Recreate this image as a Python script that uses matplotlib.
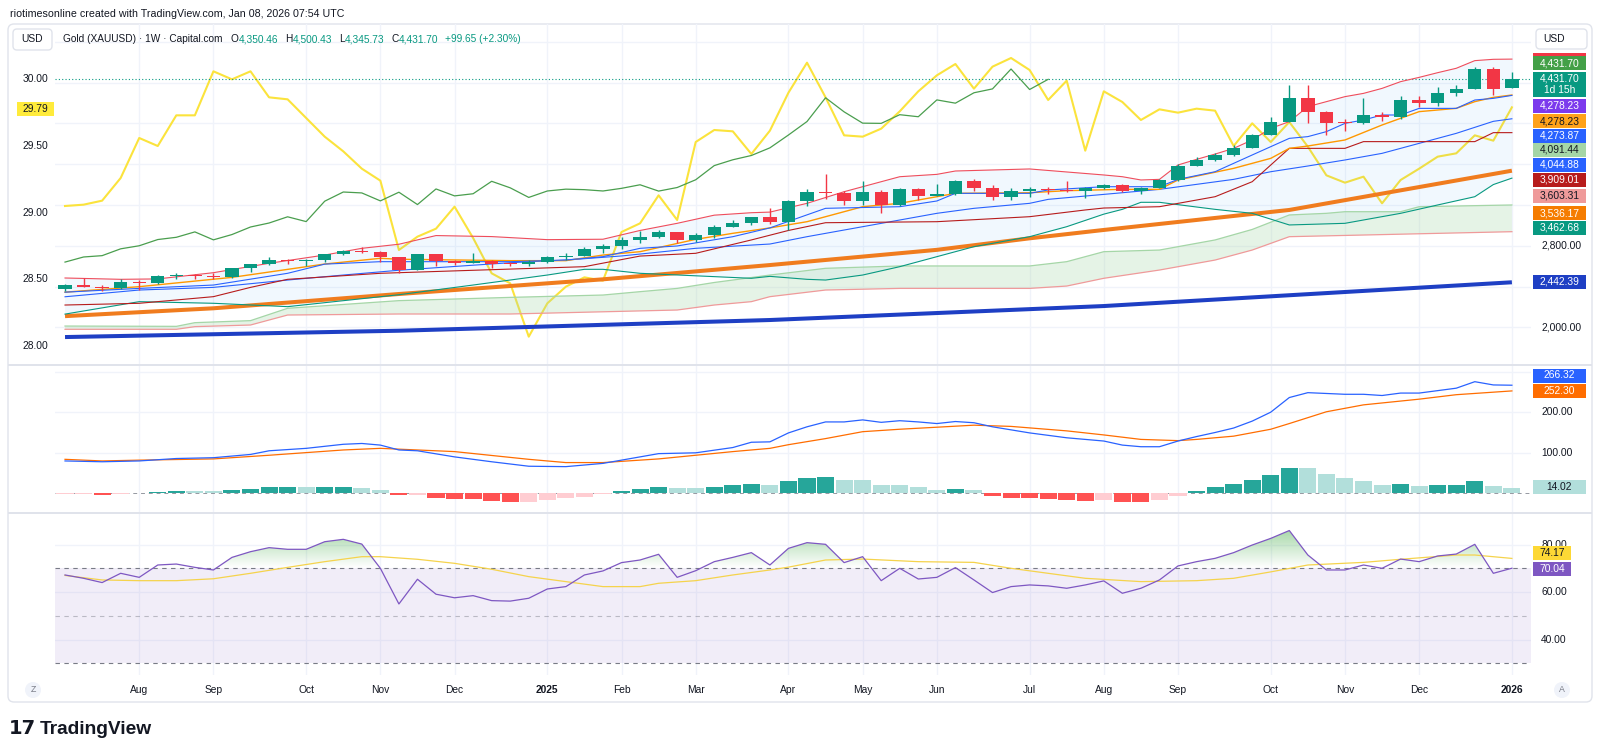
import numpy as np
import pandas as pd
import matplotlib
matplotlib.use("Agg")
import matplotlib.pyplot as plt
from matplotlib.patches import Rectangle, FancyBboxPatch, Circle
from matplotlib.path import Path
from matplotlib.transforms import IdentityTransform
from matplotlib.colors import LinearSegmentedColormap

plt.rcParams['font.family'] = ['Liberation Sans', 'DejaVu Sans']

# ---------------- data ----------------
first_week = "2024-07-08"
opens = [2375, 2411, 2400, 2387, 2443, 2431, 2507, 2512, 2503, 2497, 2578, 2622, 2658, 2653, 2657, 2721, 2747, 2737, 2685, 2563,
         2716, 2650, 2633, 2648, 2622, 2621, 2640, 2690, 2703, 2770, 2800, 2861, 2883, 2936, 2858, 2910, 2984, 3023, 3084, 3037,
         3237, 3327, 3318, 3240, 3325, 3204, 3357, 3289, 3310, 3432, 3368, 3274, 3337, 3355, 3350, 3337, 3363, 3398, 3336, 3371,
         3447, 3586, 3643, 3685, 3760, 3886, 4018, 4251, 4113, 4002, 4000, 4085, 4065, 4230, 4198, 4300, 4338, 4533, 4350.46]
highs = [2424, 2483, 2412, 2477, 2461, 2510, 2531, 2528, 2529, 2586, 2625, 2685, 2670, 2670, 2722, 2758, 2790, 2750, 2690, 2721,
         2721, 2657, 2726, 2664, 2638, 2665, 2697, 2726, 2786, 2817, 2886, 2942, 2954, 2935, 2930, 3005, 3057, 3086, 3167, 3245,
         3357, 3500, 3336, 3435, 3345, 3366, 3366, 3403, 3446, 3452, 3398, 3365, 3375, 3375, 3438, 3375, 3409, 3405, 3379, 3453,
         3600, 3674, 3707, 3791, 3897, 4059, 4381, 4381, 4117, 4047, 4245, 4110, 4264, 4264, 4354, 4374, 4550, 4550, 4500.43]
lows = [2353, 2394, 2353, 2380, 2364, 2424, 2470, 2471, 2471, 2485, 2546, 2615, 2624, 2603, 2643, 2708, 2725, 2643, 2536, 2560,
        2605, 2613, 2631, 2583, 2600, 2597, 2631, 2656, 2695, 2731, 2772, 2832, 2880, 2832, 2833, 2880, 2982, 2999, 3015, 2957,
        3194, 3260, 3202, 3204, 3121, 3190, 3245, 3287, 3300, 3340, 3247, 3248, 3282, 3310, 3326, 3268, 3353, 3331, 3311, 3365,
        3436, 3578, 3628, 3683, 3760, 3884, 4017, 4004, 3886, 3930, 3997, 4022, 4040, 4161, 4174, 4271, 4338, 4275, 4345.73]
closes = [2411, 2400, 2387, 2443, 2431, 2507, 2512, 2503, 2497, 2578, 2622, 2658, 2653, 2657, 2721, 2747, 2737, 2685, 2563, 2716,
          2650, 2633, 2648, 2622, 2621, 2640, 2690, 2703, 2770, 2800, 2861, 2883, 2936, 2858, 2910, 2984, 3023, 3084, 3037, 3237,
          3327, 3318, 3240, 3325, 3204, 3357, 3289, 3310, 3432, 3368, 3274, 3337, 3355, 3350, 3337, 3363, 3398, 3336, 3371, 3447,
          3586, 3643, 3685, 3760, 3886, 4018, 4251, 4113, 4002, 4000, 4085, 4065, 4230, 4198, 4300, 4338, 4533, 4332.05, 4431.70]
lagging_shift = 25

# yellow line on the left scale
ratio_vals = [29.05, 29.06, 29.09, 29.26, 29.56, 29.50, 29.73, 29.73, 30.06, 30.00,
              30.06, 29.865, 29.85, 29.71, 29.57, 29.46, 29.33, 29.24, 28.72, 28.82,
              28.88, 29.045, 28.81, 28.545, 28.47, 28.07, 28.32, 28.445, 28.515, 28.49,
              28.855, 28.92, 29.13, 28.945, 29.53, 29.62, 29.61, 29.44, 29.615, 29.90,
              30.125, 29.865, 29.58, 29.57, 29.63, 29.76, 29.91, 30.03, 30.115, 29.93,
              30.095, 30.16, 30.07, 29.845, 29.99, 29.465, 29.91, 29.83, 29.695, 29.775,
              29.75, 29.78, 29.765, 29.50, 29.67, 29.53, 29.68, 29.495, 29.28, 29.225,
              29.27, 29.07, 29.245, 29.33, 29.42, 29.445, 29.58, 29.54, 29.79]

bb_upper_wk = [0, 3, 5, 8, 11, 14, 16, 18, 20, 23, 26, 29, 31, 33, 35, 37, 38, 40, 42, 45, 47, 48, 52, 56, 57, 58, 59,
               60, 61, 62, 63, 64, 65, 66, 67, 68, 69, 70, 71, 72, 73, 74, 75, 76, 77, 78]
bb_upper = [2484, 2471, 2475, 2536, 2628, 2709, 2775, 2815, 2900, 2890, 2860, 2864, 2950, 3020, 3100, 3124, 3130, 3216,
            3330, 3477, 3500, 3533, 3553, 3494, 3477, 3445, 3451, 3592, 3647, 3699, 3755, 3837, 3951, 4017, 4164, 4213,
            4262, 4294, 4343, 4409, 4451, 4497, 4540, 4615, 4628, 4630]
bb_lower_wk = [0, 4, 8, 12, 18, 22, 26, 28, 29, 31, 37, 38, 40, 41, 43, 45, 47, 49, 52, 54, 56, 57, 58, 59, 62, 64, 66,
               69, 72, 74, 76, 77, 78]
bb_lower = [2130, 2252, 2236, 2203, 2320, 2415, 2513, 2569, 2569, 2530, 2481, 2500, 2471, 2464, 2513, 2595, 2693, 2791,
            2889, 2987, 3110, 3157, 3226, 3226, 3157, 3118, 3004, 3020, 3118, 3200, 3281, 3400, 3463]
bb_basis_wk = [0, 4, 8, 12, 15, 18, 24, 27, 30, 34, 38, 40, 43, 47, 49, 52, 53, 57, 59, 63, 65, 67, 69, 71, 73, 75, 77, 78]
bb_basis = [2300, 2366, 2392, 2464, 2513, 2560, 2634, 2660, 2700, 2775, 2817, 2889, 2987, 3118, 3167, 3216, 3255, 3320,
            3353, 3451, 3526, 3582, 3641, 3706, 3804, 3902, 4020, 4045]
conv_wk = [0, 4, 8, 12, 14, 17, 24, 27, 29, 31, 33, 36, 38, 41, 45, 47, 48, 52, 53, 56, 59, 60, 62, 64, 66, 67, 68, 69,
           70, 71, 72, 73, 75, 76, 77, 78]
conv = [2345, 2382, 2415, 2530, 2620, 2644, 2644, 2660, 2693, 2775, 2798, 2889, 2975, 3167, 3183, 3239, 3314, 3314, 3347,
        3379, 3379, 3451, 3526, 3690, 3853, 3870, 3919, 4000, 4033, 4082, 4082, 4147, 4147, 4229, 4245, 4274]
ema_wk = [0, 4, 9, 14, 17, 18, 24, 27, 29, 31, 34, 36, 38, 40, 43, 45, 47, 48, 52, 54, 57, 59, 60, 63, 65, 66, 67, 69, 71,
          73, 75, 76, 77, 78]
ema = [2345, 2399, 2490, 2621, 2677, 2668, 2654, 2654, 2709, 2742, 2863, 2922, 2975, 3036, 3183, 3216, 3281, 3314, 3320,
       3340, 3353, 3353, 3445, 3559, 3657, 3755, 3778, 3837, 3984, 4115, 4147, 4213, 4255, 4278]
base_wk = [0, 4, 8, 10, 12, 17, 18, 28, 31, 34, 37, 39, 41, 47, 52, 55, 56, 59, 62, 64, 66, 69, 70, 76, 77, 78]
base = [2219, 2236, 2301, 2392, 2471, 2530, 2536, 2595, 2699, 2726, 2857, 2950, 3026, 3036, 3085, 3151, 3170, 3183, 3281,
        3428, 3755, 3755, 3821, 3821, 3909, 3909]
sma50_wk = [0, 8, 18, 29, 38, 47, 52, 56, 66, 78]
sma50 = [2110, 2187, 2327, 2471, 2611, 2760, 2873, 2955, 3151, 3536]
sma200_wk = [0, 18, 38, 56, 78]
sma200 = [1905, 1967, 2072, 2209, 2442]
spanA_wk = [0, 6, 7, 10, 12, 18, 24, 29, 31, 33, 35, 36, 38, 41, 45, 52, 54, 56, 59, 62, 64, 66, 68, 69, 72, 73, 78]
spanA = [2013, 2010, 2046, 2066, 2187, 2262, 2294, 2317, 2350, 2382, 2440, 2464, 2513, 2579, 2602, 2602, 2644, 2742, 2758,
         2857, 2960, 3102, 3118, 3134, 3134, 3183, 3200]
spanB_wk = [0, 6, 7, 10, 12, 18, 24, 33, 35, 37, 38, 41, 45, 52, 54, 56, 59, 62, 64, 66, 78]
spanB = [1981, 1981, 2007, 2023, 2121, 2131, 2131, 2170, 2219, 2252, 2301, 2366, 2382, 2382, 2405, 2481, 2562, 2660, 2758,
         2889, 2938]

macd_wk = [0, 2, 4, 6, 8, 10, 11, 13, 15, 16, 17, 18, 19, 21, 23, 25, 27, 29, 30, 32, 34, 36, 37, 38, 39, 40, 41, 42, 43,
           44, 45, 46, 47, 48, 49, 50, 52, 54, 56, 57, 58, 59, 60, 61, 62, 63, 64, 65, 66, 67, 68, 69, 70, 71, 72, 73, 74,
           75, 76, 77, 78]
macd = [80, 78, 80, 86, 88, 96, 105, 111, 121, 123, 119, 107, 105, 90, 78, 67, 66, 74, 82, 98, 100, 113, 126, 127, 149,
        164, 176, 176, 181, 175, 179, 176, 172, 177, 174, 164, 149, 137, 129, 119, 115, 115, 129, 140, 150, 161, 178, 200,
        236, 248, 246, 244, 244, 241, 247, 247, 253, 259, 275, 267, 266.32]
signal_wk = [0, 2, 4, 8, 11, 15, 17, 18, 21, 25, 27, 29, 32, 36, 38, 39, 41, 43, 45, 47, 49, 51, 54, 56, 58, 60, 61, 63,
             65, 66, 68, 70, 73, 75, 78]
signal = [84, 80, 82, 85, 94, 107, 111, 109, 103, 84, 76, 76, 85, 103, 111, 120, 135, 152, 158, 163, 168, 165, 154, 144,
          133, 130, 133, 141, 158, 172, 201, 218, 232, 243, 252.30]
hist = [-1, -2, -5, -1, 1, 3, 6, 5, 5, 8, 12, 15, 16, 15, 16, 16, 14, 9, -4, -3, -10, -14, -14, -19, -21, -20, -16, -12,
        -8, -1, 7, 12, 16, 14, 14, 16, 21, 23, 21, 30, 39, 41, 34, 33, 21, 21, 15, 8, 12, 8, -6, -10, -11, -13, -16, -18,
        -15, -21, -21, -15, -6, 7, 15, 23, 32, 45, 62, 62, 49, 37, 30, 21, 23, 18, 21, 21, 30, 18, 14.02]
hist_kind = ("pprpGGGggG" "GGGgGGggrp" "rrrrrppppp" "GGGggGGGgG" "GGggggggGg" "rrrrrrprrp" "pGGGGGGggg" "ggGgGGGgg")

rsi = [67.2, 65.8, 64.0, 67.9, 66.2, 71.4, 71.8, 70.4, 69.3, 74.6, 77.0, 78.7, 78.0, 78.0, 81.2, 82.2, 80.2, 70.0, 55.0,
       65.4, 59.1, 57.6, 58.5, 56.4, 56.2, 57.4, 61.3, 62.3, 67.2, 68.9, 72.4, 73.5, 75.9, 66.2, 69.0, 72.8, 74.6, 76.6,
       71.4, 78.4, 80.8, 80.1, 72.4, 74.9, 64.8, 70.0, 65.5, 66.2, 70.3, 65.1, 59.8, 62.3, 63.0, 62.6, 61.6, 63.0, 64.7,
       59.5, 61.6, 65.1, 71.0, 72.8, 74.2, 76.6, 79.8, 82.6, 85.9, 75.6, 69.3, 69.3, 71.4, 70.0, 73.9, 72.8, 75.2, 76.0,
       80.1, 67.9, 70.04]
rsi_ma_wk = [0, 2, 4, 6, 8, 10, 12, 14, 16, 17, 19, 21, 23, 25, 27, 29, 31, 32, 34, 36, 38, 39, 41, 43, 46, 49, 51, 55,
             58, 61, 63, 65, 67, 70, 72, 75, 76, 78]
rsi_ma = [67, 65.1, 64.8, 64.8, 65.6, 67.9, 70.4, 72.8, 74.9, 74.9, 73.8, 72.1, 69.6, 66.5, 64.4, 62.3, 62.3, 63.7, 64.8,
          67.2, 69.3, 70.5, 73.5, 73.9, 72.8, 72.5, 70, 65.8, 64.4, 64.8, 65.8, 68.5, 71.4, 72.5, 73.8, 75.6, 75.6, 74.17]

left_ticks = [28.00, 28.50, 29.00, 29.50, 30.00]
price_grid = [2000, 2400, 2800, 3200, 3600, 4000, 4400, 4800]
price_labels = [2000, 2800]

# ---------------- layout ----------------
W, H = 1600, 756
fig = plt.figure(figsize=(W / 100, H / 100), dpi=100)
fig.patch.set_facecolor('white')
ID = IdentityTransform()
TXT = '#131722'
GRID = '#f0f3fa'


def rect(x0, y0, x1, y1):
    return [x0 / W, 1 - y1 / H, (x1 - x0) / W, (y1 - y0) / H]


def ftext(x, y, s, **kw):
    return fig.text(x / W, 1 - y / H, s, **kw)


PX_L, PX_R = 55, 1531
XLIM = (-0.54, 79.03)
n = len(closes)
x = np.arange(n)
dates = pd.date_range(first_week, periods=n, freq='7D')
tick_pos, tick_lab = [], []
for i in range(1, n):
    if dates[i].month != dates[i - 1].month:
        tick_pos.append(i)
        tick_lab.append(str(dates[i].year) if dates[i].month == 1 else dates[i].strftime('%b'))

# frame and separators
fig.add_artist(FancyBboxPatch((8, H - 702), 1584, 678, boxstyle='round,pad=0,rounding_size=6',
                              transform=ID, fc='none', ec='#e0e3eb', lw=1))
for ys in (364, 512):
    fig.add_artist(Rectangle((8, H - ys - 2), 1584, 2, transform=ID, fc='#e0e3eb', ec='none'))

ax = fig.add_axes(rect(PX_L, 24, PX_R, 364))
axr = ax.twinx()
ax2 = fig.add_axes(rect(PX_L, 366, PX_R, 512))
ax3 = fig.add_axes(rect(PX_L, 514, PX_R, 675))
for a in (ax, axr, ax2, ax3):
    a.set_xlim(*XLIM)
    for s in a.spines.values():
        s.set_visible(False)
    a.set_xticks([])
    a.set_yticks([])
    a.patch.set_visible(False)
ax.set_zorder(2)
axr.set_zorder(1)
ax.set_ylim(1640.8, 4974.2)
axr.set_ylim(27.865, 30.415)
ax2.set_ylim(-45.6, 313.6)
ax3.set_ylim(25.1, 92.86)

# grids
for a in (axr, ax2, ax3):
    for t in tick_pos:
        a.axvline(t, color=GRID, lw=1, zorder=0)
for p in price_grid:
    axr.axhline(axr.transData.inverted().transform(ax.transData.transform((0, p)))[1], color=GRID, lw=1, zorder=0)

# ---------------- main pane ----------------
ax.fill(np.r_[bb_upper_wk, bb_lower_wk[::-1]], np.r_[bb_upper, bb_lower[::-1]],
        color='#2196f3', alpha=0.06, lw=0, zorder=1)
ax.fill(np.r_[spanA_wk, spanB_wk[::-1]], np.r_[spanA, spanB[::-1]],
        color='#a5d6a7', alpha=0.28, lw=0, zorder=1)
ax.plot(spanA_wk, spanA, color='#a5d6a7', lw=0.9, zorder=2)
ax.plot(spanB_wk, spanB, color='#ef9a9a', lw=0.9, zorder=2)
ax.plot(sma200_wk, sma200, color='#1e3fc4', lw=2.9, zorder=2, solid_capstyle='butt')
ax.plot(sma50_wk, sma50, color='#f07c1e', lw=2.9, zorder=2, solid_capstyle='butt')
ax.plot(bb_lower_wk, bb_lower, color='#089981', lw=0.8, zorder=3)
ax.plot(bb_basis_wk, bb_basis, color='#2962ff', lw=0.8, zorder=3)
ax.plot(bb_upper_wk, bb_upper, color='#ef4d5c', lw=0.8, zorder=3)
ax.plot(base_wk, base, color='#b71c1c', lw=0.8, zorder=3)
ax.plot(ema_wk, ema, color='#ff9800', lw=1.0, zorder=3)
ax.plot(conv_wk, conv, color='#2962ff', lw=0.8, zorder=3)
ax.plot(x[:n - lagging_shift], closes[lagging_shift:], color='#4a9e4e', lw=0.9, zorder=3)
ax.axhline(closes[-1], color='#089981', lw=0.8, ls=(0, (1, 2)), zorder=2)

o = np.array(opens); c = np.array(closes)
col = np.where(c >= o, '#089981', '#f23645')
ax.vlines(x, lows, highs, colors=col, lw=1, zorder=5)
ax.bar(x, np.maximum(np.abs(c - o), 9), bottom=np.minimum(o, c), width=0.72, color=col, lw=0, zorder=6)

axr.plot(x, ratio_vals, color='#fbe33c', lw=1.5, zorder=3)

# ---------------- MACD pane ----------------
for v in (100, 200, 300):
    ax2.axhline(v, color=GRID, lw=1, zorder=0)
ax2.axhline(0, color='#9598a1', lw=0.7, ls=(0, (4, 4)), zorder=1)
kind_col = {'G': '#26a69a', 'g': '#b2dfdb', 'r': '#ff5252', 'p': '#ffcdd2'}
ax2.bar(x, hist, width=0.92, color=[kind_col[k] for k in hist_kind], lw=0, zorder=2)
ax2.plot(signal_wk, signal, color='#ff6d00', lw=0.9, zorder=3)
ax2.plot(macd_wk, macd, color='#2962ff', lw=0.9, zorder=3)

# ---------------- RSI pane ----------------
for v in (40, 60, 80):
    ax3.axhline(v, color=GRID, lw=1, zorder=0)
ax3.axhspan(30, 70, color='#7e57c2', alpha=0.1, lw=0, zorder=0)
ax3.axhline(70, color='#787b86', lw=0.8, ls=(0, (4, 4)), zorder=1)
ax3.axhline(50, color='#787b86', lw=0.8, ls=(0, (4, 4)), alpha=0.45, zorder=1)
ax3.axhline(30, color='#787b86', lw=0.8, ls=(0, (4, 4)), zorder=1)
rsi_arr = np.array(rsi)
pc = ax3.fill_between(x, rsi_arr, 70, where=rsi_arr > 70, interpolate=True, color='none', lw=0)
cpath = Path.make_compound_path(*pc.get_paths())
gcm = LinearSegmentedColormap.from_list('g', [(0.30, 0.69, 0.31, 0.0), (0.30, 0.69, 0.31, 0.55)])
im = ax3.imshow(np.linspace(0, 1, 256).reshape(-1, 1), extent=[XLIM[0], XLIM[1], 70, 88], origin='lower',
                aspect='auto', cmap=gcm, zorder=1, interpolation='bilinear')
im.set_clip_path(cpath, ax3.transData)
ax3.set_xlim(*XLIM)
ax3.set_ylim(25.1, 92.86)
ax3.plot(rsi_ma_wk, rsi_ma, color='#f5d34c', lw=0.9, zorder=3)
ax3.plot(x, rsi, color='#7e57c2', lw=0.9, zorder=4)

# ---------------- axis labels ----------------
FS = 7.4
for t, lab in zip(tick_pos, tick_lab):
    ax3.text(t, -0.093, lab, transform=ax3.get_xaxis_transform(), ha='center', va='center', fontsize=FS,
             color=TXT, fontweight='bold' if lab.isdigit() else 'normal', clip_on=False)

xr = (1541 - PX_L) / (PX_R - PX_L)
for p in price_labels:
    ax.text(xr, p, f'{p:,.2f}', transform=ax.get_yaxis_transform(), ha='left', va='center', fontsize=FS,
            color=TXT, clip_on=False)
for v in (100, 200):
    ax2.text(xr, v, f'{v:.2f}', transform=ax2.get_yaxis_transform(), ha='left', va='center', fontsize=FS,
             color=TXT, clip_on=False)
for v in (40, 60, 80):
    ax3.text(xr, v, f'{v:.2f}', transform=ax3.get_yaxis_transform(), ha='left', va='center', fontsize=FS,
             color=TXT, clip_on=False)
xl = (48 - PX_L) / (PX_R - PX_L)
for v in left_ticks:
    axr.text(xl, v, f'{v:.2f}', transform=axr.get_yaxis_transform(), ha='right', va='center', fontsize=FS,
             color=TXT, clip_on=False)


def badge(x0, x1, yc, h, text, fc, tc):
    fig.add_artist(Rectangle((x0, H - yc - h / 2), x1 - x0, h, transform=ID, fc=fc, ec='none', zorder=10))
    ftext((x0 + x1) / 2, yc, text, ha='center', va='center', fontsize=FS, color=tc, zorder=11,
          linespacing=1.2)


BX0, BX1 = 1533, 1586
fig.add_artist(Rectangle((BX0, H - 58), BX1 - BX0, 5, transform=ID, fc='#f23645', ec='none', zorder=9))
badges_main = [
    (63.3, 14, '4,431.70', '#43a047', 'white'),
    (84.5, 25, '4,431.70\n1d 15h', '#089981', 'white'),
    (106, 14, '4,278.23', '#7c3aed', 'white'),
    (121, 14, '4,278.23', '#ffa21a', TXT),
    (135.7, 14, '4,273.87', '#2962ff', 'white'),
    (150, 14, '4,091.44', '#a5d6a7', TXT),
    (164.7, 14, '4,044.88', '#2962ff', 'white'),
    (179.7, 14, '3,909.01', '#b71c1c', 'white'),
    (195.8, 14, '3,603.31', '#ef9a9a', TXT),
    (213, 14, '3,536.17', '#f57c00', 'white'),
    (228, 14, '3,462.68', '#089981', 'white'),
    (282, 14, '2,442.39', '#1e3fc4', 'white'),
    (375.5, 14, '266.32', '#2962ff', 'white'),
    (390.5, 14, '252.30', '#ff6d00', 'white'),
    (487, 14, '14.02', '#b2dfdb', TXT),
]
for yc, h, s, fc, tc in badges_main:
    badge(BX0, BX1, yc, h, s, fc, tc)
badge(1533, 1571, 553.3, 14, '74.17', '#fdd835', TXT)
badge(1533, 1571, 569, 14, '70.04', '#7e57c2', 'white')
badge(17, 54, 109.3, 14, '29.79', '#ffeb3b', TXT)

# ---------------- header / footer ----------------
ftext(10, 14, 'riotimesonline created with TradingView.com, Jan 08, 2026 07:54 UTC', fontsize=7.7, color=TXT,
      va='center')
fig.add_artist(FancyBboxPatch((13, H - 50), 39, 21, boxstyle='round,pad=0,rounding_size=4', transform=ID,
                              fc='white', ec='#e0e3eb', lw=1, zorder=5))
ftext(32.5, 39.5, 'USD', fontsize=7.4, color=TXT, ha='center', va='center', zorder=6)
fig.add_artist(FancyBboxPatch((1536, H - 49), 51, 20, boxstyle='round,pad=0,rounding_size=4', transform=ID,
                              fc='white', ec='#e0e3eb', lw=1, zorder=5))
ftext(1543, 39, 'USD', fontsize=7.4, color=TXT, ha='left', va='center', zorder=6)

# legend: pieces chained one after another
TEAL = '#089981'
LFS = 7.3
chg = closes[-1] - closes[-2]
legend_parts = [('Gold (XAUUSD) · 1W · Capital.com', TXT, 0),
                ('O', TXT, 6), (f'{opens[-1]:,.2f}', TEAL, 0),
                ('H', TXT, 5), (f'{highs[-1]:,.2f}', TEAL, 0),
                ('L', TXT, 5), (f'{lows[-1]:,.2f}', TEAL, 0),
                ('C', TXT, 5), (f'{closes[-1]:,.2f}', TEAL, 0),
                (f'+{chg:.2f} (+{chg / closes[-2] * 100:.2f}%)', TEAL, 5)]
prev = None
for s, colr, gap in legend_parts:
    if prev is None:
        prev = ftext(63, 39, s, fontsize=LFS, color=colr, va='center')
    else:
        prev = ax.annotate(s, xy=(1, 0.5), xycoords=prev, xytext=(gap, 0), textcoords='offset points',
                           ha='left', va='center', fontsize=LFS, color=colr, annotation_clip=False)

for cx, s in ((33, 'Z'), (1562, 'A')):
    fig.add_artist(Circle((cx, H - 690), 8, transform=ID, fc='#f0f3fa', ec='none'))
    ftext(cx, 690, s, fontsize=6.3, color='#787b86', ha='center', va='center')

ftext(9, 729, '17', fontsize=14, fontweight='heavy', color=TXT, va='center', family='DejaVu Sans')
ftext(40, 729, 'TradingView', fontsize=13.8, fontweight='bold', color=TXT, va='center')

fig.savefig('out.png', dpi=100, facecolor='white')
